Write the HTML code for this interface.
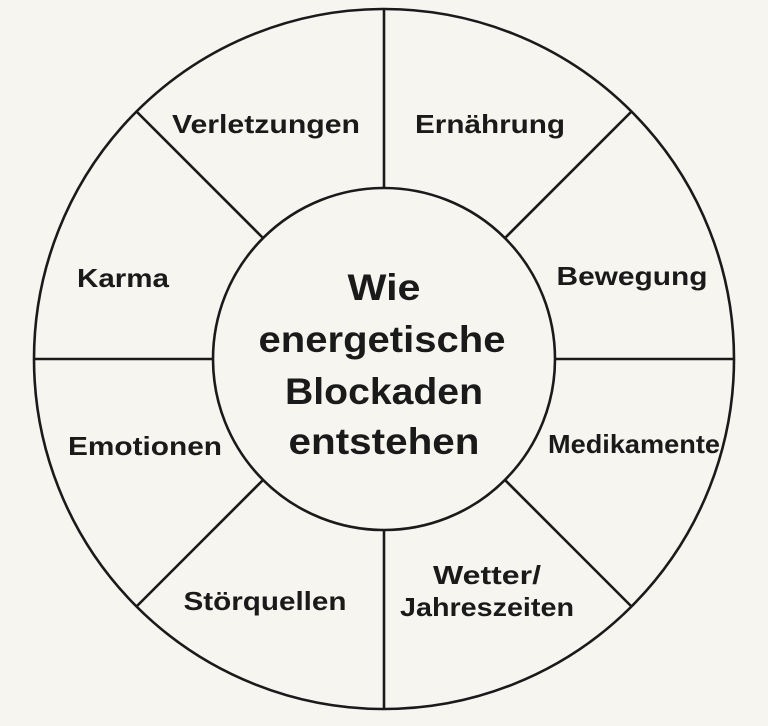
<!DOCTYPE html>
<html><head><meta charset="utf-8"><style>
html,body{margin:0;padding:0;background:#f7f5f0;}
svg{display:block}
text{font-family:"Liberation Sans",sans-serif;fill:#1a1a1a;text-anchor:middle;}
.l{font-size:26px;font-weight:bold;}
.c{font-size:37px;font-weight:bold;}
</style></head><body>
<svg width="768" height="726" viewBox="0 0 768 726">
<rect width="768" height="726" fill="#f7f5f0"/>
<g stroke="#1a1a1a" stroke-width="2.6" fill="none">
<circle cx="384" cy="359" r="350"/>
<circle cx="384" cy="359" r="171"/>
<line x1="384" y1="9" x2="384" y2="188"/>
<line x1="384" y1="530" x2="384" y2="709"/>
<line x1="34" y1="359" x2="213" y2="359"/>
<line x1="555" y1="359" x2="734" y2="359"/>
<line x1="136.5" y1="111.5" x2="263" y2="238"/>
<line x1="505" y1="480" x2="631.5" y2="606.5"/>
<line x1="631.5" y1="111.5" x2="505" y2="238"/>
<line x1="263" y1="480" x2="136.5" y2="606.5"/>
</g>
<g lengthAdjust="spacingAndGlyphs">
<text class="l" x="266" y="133" textLength="188" lengthAdjust="spacingAndGlyphs">Verletzungen</text>
<text class="l" x="490" y="133" textLength="150" lengthAdjust="spacingAndGlyphs">Ernährung</text>
<text class="l" x="123" y="287" textLength="92" lengthAdjust="spacingAndGlyphs">Karma</text>
<text class="l" x="632" y="285" textLength="151" lengthAdjust="spacingAndGlyphs">Bewegung</text>
<text class="l" x="145" y="455" textLength="154" lengthAdjust="spacingAndGlyphs">Emotionen</text>
<text class="l" x="634" y="453" textLength="172" lengthAdjust="spacingAndGlyphs">Medikamente</text>
<text class="l" x="265" y="610" textLength="163" lengthAdjust="spacingAndGlyphs">Störquellen</text>
<text class="l" x="487" y="584" textLength="108" lengthAdjust="spacingAndGlyphs">Wetter/</text>
<text class="l" x="487" y="616" textLength="174" lengthAdjust="spacingAndGlyphs">Jahreszeiten</text>
<text class="c" x="384" y="300" textLength="73" lengthAdjust="spacingAndGlyphs">Wie</text>
<text class="c" x="382" y="352" textLength="247" lengthAdjust="spacingAndGlyphs">energetische</text>
<text class="c" x="384" y="404" textLength="198" lengthAdjust="spacingAndGlyphs">Blockaden</text>
<text class="c" x="384" y="454" textLength="191" lengthAdjust="spacingAndGlyphs">entstehen</text>
</g>
</svg>
</body></html>
